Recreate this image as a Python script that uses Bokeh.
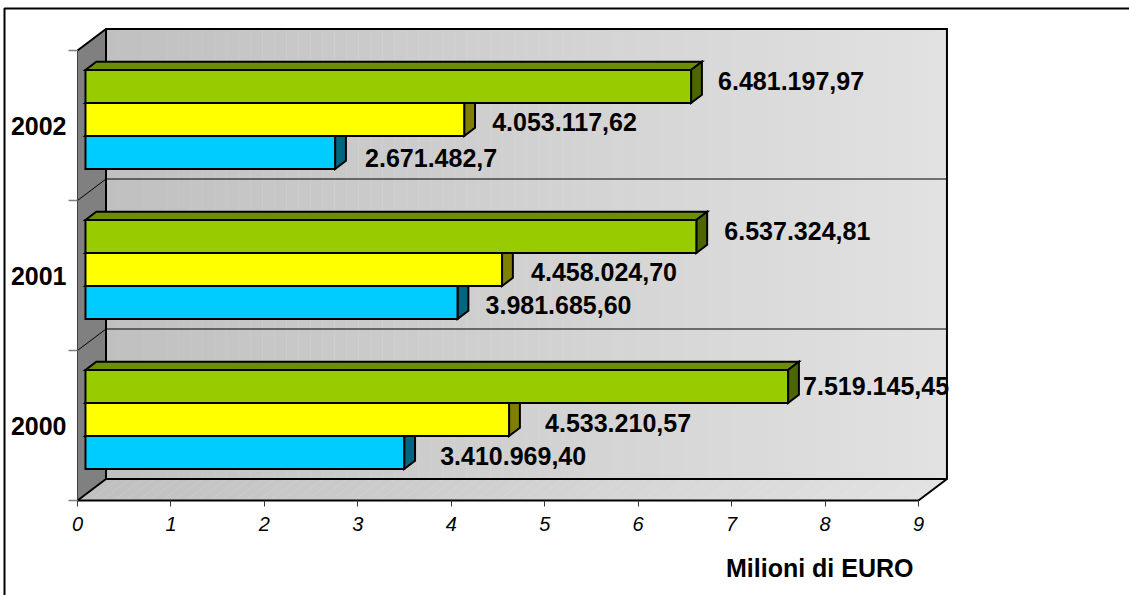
from bokeh.plotting import figure
from bokeh.models import Range1d, LinearAxis, FixedTicker
from bokeh.core.properties import value
from bokeh.embed import file_html
from bokeh.resources import INLINE

# ---------------- data ----------------
years = ["2000", "2001", "2002"]
series_names = ["serie 1", "serie 2", "serie 3"]
values_blue = [3410969.40, 3981685.60, 2671482.70]
values_yellow = [4533210.57, 4458024.70, 4053117.62]
values_green = [7519145.45, 6537324.81, 6481197.97]
labels_blue = ["3.410.969,40", "3.981.685,60", "2.671.482,7"]
labels_yellow = ["4.533.210,57", "4.458.024,70", "4.053.117,62"]
labels_green = ["7.519.145,45", "6.537.324,81", "6.481.197,97"]
x_ticks = [0, 1, 2, 3, 4, 5, 6, 7, 8, 9]
x_tick_labels = ["0", "1", "2", "3", "4", "5", "6", "7", "8", "9"]
axis_title = "Milioni di EURO"
scale_div = 1e6

# ---------------- styles / geometry ----------------
W, H = 1129, 595
PXX = 93.44          # px per million
PYY = 150.0          # px per category
OX, OY = 77.0, 500.0  # px of the data origin (front corner)
FONT = value("Liberation Sans")

x_start = -OX / PXX
x_end = (W - OX) / PXX
y_start = -(H - OY) / PYY
y_end = OY / PYY

XMAX = x_ticks[-1]
NCAT = len(years)
DX = 28.5 / PXX
DY = 21.5 / PYY
bx0, by0 = 0.28 * DX, 0.28 * DY
bdx, bdy = 0.38 * DX, 0.38 * DY
BAR_H = 0.22

front_cols = ["#00CCFF", "#FFFF00", "#99CC00"]
top_cols = ["#008FB3", "#B3B300", "#6B8F00"]
side_cols = ["#006680", "#808000", "#4D6600"]

# label nudges in px (dx right, dy down), index [series][year]
lab_dx = [[36, 28, 30], [36, 29, 28], [15, 28, 27]]
lab_dy = [[4, 3, 5.5], [4, 3, 2.5], [0, -5.5, -5]]

p = figure(width=W, height=H, x_range=Range1d(x_start, x_end),
           y_range=Range1d(y_start, y_end), output_backend="svg",
           toolbar_location=None, min_border=0, x_axis_type=None,
           y_axis_type=None)
p.outline_line_color = None
p.background_fill_color = "white"
p.border_fill_color = "white"

def grey(t):
    g = int(round(192 + (226 - 192) * t))
    return "#%02x%02x%02x" % (g, g, g)

# back wall gradient
N = 70
bl, br, bc = [], [], []
for i in range(N):
    a = DX + XMAX * i / N
    b = DX + XMAX * (i + 1) / N + 0.004
    bl.append(a); br.append(b); bc.append(grey((i + 0.5) / N))
p.quad(left=bl, right=br, bottom=DY, top=NCAT + DY, fill_color=bc, line_color=None)

# floor gradient
fxs, fys, fc = [], [], []
for i in range(N):
    a = XMAX * i / N
    b = XMAX * (i + 1) / N + 0.004
    fxs.append([a, b, b + DX, a + DX]); fys.append([0, 0, DY, DY])
    fc.append(grey((i + 0.5) / N))
p.patches(fxs, fys, fill_color=fc, line_color=None)

# left side wall
p.patch([0, DX, DX, 0], [0, DY, NCAT + DY, NCAT], fill_color="#808080", line_color=None)

# gridlines
for k in range(1, NCAT):
    p.line([0, DX, DX + XMAX], [k, k + DY, k + DY], line_color="black", line_width=1)

# wall edges
p.line([0, DX, DX + XMAX, DX + XMAX, XMAX], [NCAT, NCAT + DY, NCAT + DY, DY, 0],
       line_color="black", line_width=2, line_join="miter")
p.line([DX, DX], [DY, NCAT + DY], line_color="black", line_width=2)
p.line([0, DX, DX + XMAX], [0, DY, DY], line_color="black", line_width=2)

# bars
series_vals = [values_blue, values_yellow, values_green]
series_labs = [labels_blue, labels_yellow, labels_green]
pxs, pys, pcol = [], [], []
tx, ty, tt = [], [], []
for k in range(NCAT):
    base = k + 0.5 - 1.5 * BAR_H + by0
    for s in range(3):
        v = series_vals[s][k] / scale_div
        b = base + s * BAR_H
        t = b + BAR_H
        l = bx0
        r = bx0 + v
        pxs.append([l, r, r + bdx, l + bdx]); pys.append([t, t, t + bdy, t + bdy]); pcol.append(top_cols[s])
        pxs.append([r, r + bdx, r + bdx, r]); pys.append([b, b + bdy, t + bdy, t]); pcol.append(side_cols[s])
        pxs.append([l, r, r, l]); pys.append([b, b, t, t]); pcol.append(front_cols[s])
        tx.append(r + lab_dx[s][k] / PXX)
        ty.append((b + t) / 2 - lab_dy[s][k] / PYY)
        tt.append(series_labs[s][k])

p.patches(pxs, pys, fill_color=pcol, line_color="black", line_width=2, line_join="miter")

p.text(x=tx, y=ty, text=tt, text_font=FONT, text_font_style="bold",
       text_font_size="25px", text_align="left", text_baseline="middle",
       text_color="black")

# axis title
p.text(x=[XMAX - 5 / PXX], y=[-67 / PYY], text=[axis_title], text_font=FONT,
       text_font_style="bold", text_font_size="25px", text_align="right",
       text_baseline="middle", text_color="black")

# axes
xa = LinearAxis(fixed_location=0, bounds=(0, XMAX),
                ticker=FixedTicker(ticks=x_ticks, minor_ticks=[]))
xa.major_label_overrides = {t: l for t, l in zip(x_ticks, x_tick_labels)}
xa.axis_line_color = "black"
xa.axis_line_width = 2
xa.major_tick_out = 6
xa.major_tick_in = 0
xa.major_tick_line_color = "#333333"
xa.minor_tick_line_color = None
xa.major_label_text_font = "Liberation Sans"
xa.major_label_text_font_style = "italic"
xa.major_label_text_font_size = "20px"
xa.major_label_text_color = "black"
xa.major_label_standoff = 10
p.add_layout(xa, "below")

centers = [k + 0.5 for k in range(NCAT)]
ya = LinearAxis(fixed_location=0, bounds=(0, NCAT),
                ticker=FixedTicker(ticks=centers, minor_ticks=list(range(NCAT + 1))))
ya.major_label_overrides = {c: y for c, y in zip(centers, years)}
ya.axis_line_color = "#404040"
ya.axis_line_width = 1
ya.major_tick_out = 0
ya.major_tick_in = 0
ya.major_tick_line_color = None
ya.minor_tick_out = 9
ya.minor_tick_in = 0
ya.minor_tick_line_color = "#808080"
ya.minor_tick_line_width = 1.5
ya.major_label_orientation = "horizontal"
ya.major_label_text_font = "Liberation Sans"
ya.major_label_text_font_style = "bold"
ya.major_label_text_font_size = "25px"
ya.major_label_text_color = "black"
ya.major_label_standoff = 2
p.add_layout(ya, "left")

# outer chart border (top & left)
bx = (4 - OX) / PXX
byy = (OY - 8) / PYY
p.line([bx, bx, x_end], [y_start, byy, byy], line_color="black", line_width=2)

open("out.html", "w").write(file_html(p, INLINE))
